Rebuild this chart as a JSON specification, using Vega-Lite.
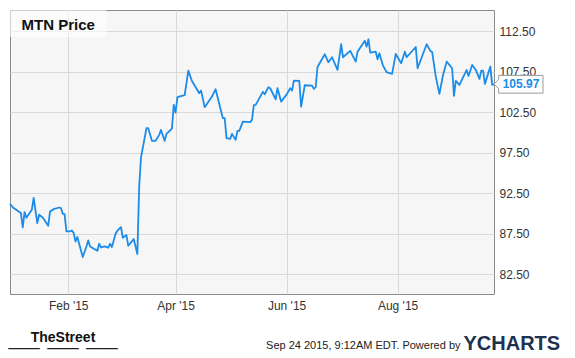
{
  "$schema": "https://vega.github.io/schema/vega-lite/v6.json",
  "width": 484,
  "height": 284,
  "autosize": {"type": "none"},
  "padding": {"left": 10, "top": 10, "right": 81, "bottom": 64},
  "background": "white",
  "config": {
    "view": {"fill": "#f6f6f6", "stroke": "#8a8a8a", "strokeWidth": 1},
    "axis": {"labelFont": "Liberation Sans", "titleFont": "Liberation Sans", "domain": false, "ticks": false, "tickSize": 0, "gridColor": "#d9d9d9", "gridWidth": 1, "gridOpacity": 1}
  },
  "title": {
    "text": "TheStreet",
    "subtitle": "__ __ __",
    "orient": "bottom",
    "anchor": "start",
    "frame": "group",
    "align": "center",
    "dx": 53,
    "offset": -22,
    "font": "Liberation Sans",
    "fontSize": 14,
    "fontWeight": "bold",
    "color": "#111111",
    "subtitleFont": "Liberation Sans",
    "subtitleFontSize": 28,
    "subtitleFontWeight": "bold",
    "subtitleColor": "#222222",
    "subtitlePadding": -21
  },
  "datasets": {
    "prices": [
      {"date": "2014-12-31", "price": 91.14},
      {"date": "2015-01-02", "price": 90.65},
      {"date": "2015-01-04", "price": 90.35},
      {"date": "2015-01-06", "price": 90.03},
      {"date": "2015-01-07", "price": 88.25},
      {"date": "2015-01-08", "price": 90.15},
      {"date": "2015-01-09", "price": 89.45},
      {"date": "2015-01-12", "price": 90.44},
      {"date": "2015-01-13", "price": 91.92},
      {"date": "2015-01-15", "price": 88.80},
      {"date": "2015-01-16", "price": 89.82},
      {"date": "2015-01-18", "price": 89.49},
      {"date": "2015-01-21", "price": 88.46},
      {"date": "2015-01-22", "price": 90.23},
      {"date": "2015-01-24", "price": 90.52},
      {"date": "2015-01-27", "price": 90.72},
      {"date": "2015-01-28", "price": 90.65},
      {"date": "2015-01-29", "price": 89.94},
      {"date": "2015-01-30", "price": 89.90},
      {"date": "2015-01-31", "price": 87.76},
      {"date": "2015-02-02", "price": 87.76},
      {"date": "2015-02-03", "price": 87.88},
      {"date": "2015-02-04", "price": 87.56},
      {"date": "2015-02-05", "price": 86.52},
      {"date": "2015-02-06", "price": 87.07},
      {"date": "2015-02-07", "price": 86.24},
      {"date": "2015-02-09", "price": 84.60},
      {"date": "2015-02-11", "price": 85.91},
      {"date": "2015-02-12", "price": 86.65},
      {"date": "2015-02-13", "price": 85.91},
      {"date": "2015-02-17", "price": 85.38},
      {"date": "2015-02-18", "price": 86.24},
      {"date": "2015-02-19", "price": 85.78},
      {"date": "2015-02-21", "price": 85.91},
      {"date": "2015-02-23", "price": 85.75},
      {"date": "2015-02-24", "price": 86.24},
      {"date": "2015-02-25", "price": 85.83},
      {"date": "2015-02-27", "price": 87.44},
      {"date": "2015-02-28", "price": 87.85},
      {"date": "2015-03-02", "price": 88.30},
      {"date": "2015-03-03", "price": 86.98},
      {"date": "2015-03-05", "price": 87.31},
      {"date": "2015-03-06", "price": 85.99},
      {"date": "2015-03-09", "price": 86.82},
      {"date": "2015-03-11", "price": 84.97},
      {"date": "2015-03-12", "price": 93.31},
      {"date": "2015-03-13", "price": 96.92},
      {"date": "2015-03-16", "price": 100.52},
      {"date": "2015-03-17", "price": 100.52},
      {"date": "2015-03-19", "price": 98.96},
      {"date": "2015-03-21", "price": 98.96},
      {"date": "2015-03-23", "price": 99.70},
      {"date": "2015-03-24", "price": 100.31},
      {"date": "2015-03-26", "price": 98.96},
      {"date": "2015-03-27", "price": 99.82},
      {"date": "2015-03-30", "price": 100.48},
      {"date": "2015-03-31", "price": 103.40},
      {"date": "2015-04-01", "price": 102.45},
      {"date": "2015-04-02", "price": 104.35},
      {"date": "2015-04-06", "price": 104.60},
      {"date": "2015-04-08", "price": 107.64},
      {"date": "2015-04-10", "price": 106.36},
      {"date": "2015-04-14", "price": 104.85},
      {"date": "2015-04-15", "price": 105.17},
      {"date": "2015-04-17", "price": 103.12},
      {"date": "2015-04-21", "price": 104.43},
      {"date": "2015-04-23", "price": 105.34},
      {"date": "2015-04-27", "price": 101.76},
      {"date": "2015-04-28", "price": 101.76},
      {"date": "2015-04-29", "price": 99.29},
      {"date": "2015-05-01", "price": 99.20},
      {"date": "2015-05-02", "price": 99.82},
      {"date": "2015-05-04", "price": 99.08},
      {"date": "2015-05-05", "price": 100.19},
      {"date": "2015-05-06", "price": 100.19},
      {"date": "2015-05-08", "price": 101.34},
      {"date": "2015-05-12", "price": 101.27},
      {"date": "2015-05-13", "price": 101.55},
      {"date": "2015-05-14", "price": 103.36},
      {"date": "2015-05-15", "price": 103.40},
      {"date": "2015-05-19", "price": 105.01},
      {"date": "2015-05-20", "price": 104.72},
      {"date": "2015-05-22", "price": 105.59},
      {"date": "2015-05-23", "price": 105.46},
      {"date": "2015-05-26", "price": 104.10},
      {"date": "2015-05-27", "price": 105.46},
      {"date": "2015-05-29", "price": 103.81},
      {"date": "2015-06-01", "price": 104.67},
      {"date": "2015-06-03", "price": 105.46},
      {"date": "2015-06-04", "price": 105.17},
      {"date": "2015-06-05", "price": 106.40},
      {"date": "2015-06-08", "price": 106.36},
      {"date": "2015-06-09", "price": 103.19},
      {"date": "2015-06-11", "price": 105.83},
      {"date": "2015-06-15", "price": 105.78},
      {"date": "2015-06-16", "price": 105.38},
      {"date": "2015-06-17", "price": 105.59},
      {"date": "2015-06-18", "price": 108.09},
      {"date": "2015-06-22", "price": 109.66},
      {"date": "2015-06-24", "price": 108.67},
      {"date": "2015-06-26", "price": 109.29},
      {"date": "2015-06-29", "price": 107.72},
      {"date": "2015-07-01", "price": 110.90},
      {"date": "2015-07-02", "price": 109.29},
      {"date": "2015-07-06", "price": 110.07},
      {"date": "2015-07-09", "price": 108.75},
      {"date": "2015-07-10", "price": 109.98},
      {"date": "2015-07-14", "price": 111.34},
      {"date": "2015-07-15", "price": 110.60},
      {"date": "2015-07-16", "price": 111.51},
      {"date": "2015-07-17", "price": 109.86},
      {"date": "2015-07-20", "price": 109.98},
      {"date": "2015-07-21", "price": 109.04},
      {"date": "2015-07-22", "price": 109.78},
      {"date": "2015-07-24", "price": 108.25},
      {"date": "2015-07-26", "price": 107.44},
      {"date": "2015-07-29", "price": 107.23},
      {"date": "2015-07-31", "price": 109.70},
      {"date": "2015-08-03", "price": 108.55},
      {"date": "2015-08-05", "price": 109.98},
      {"date": "2015-08-06", "price": 109.29},
      {"date": "2015-08-11", "price": 110.56},
      {"date": "2015-08-12", "price": 107.93},
      {"date": "2015-08-17", "price": 110.90},
      {"date": "2015-08-19", "price": 110.07},
      {"date": "2015-08-20", "price": 109.94},
      {"date": "2015-08-22", "price": 106.90},
      {"date": "2015-08-24", "price": 104.76},
      {"date": "2015-08-26", "price": 107.10},
      {"date": "2015-08-28", "price": 108.75},
      {"date": "2015-08-31", "price": 107.93},
      {"date": "2015-09-01", "price": 104.51},
      {"date": "2015-09-02", "price": 106.36},
      {"date": "2015-09-04", "price": 105.87},
      {"date": "2015-09-08", "price": 107.72},
      {"date": "2015-09-09", "price": 106.98},
      {"date": "2015-09-11", "price": 108.34},
      {"date": "2015-09-13", "price": 107.72},
      {"date": "2015-09-15", "price": 106.61},
      {"date": "2015-09-16", "price": 107.64},
      {"date": "2015-09-17", "price": 107.64},
      {"date": "2015-09-18", "price": 106.00},
      {"date": "2015-09-21", "price": 108.13},
      {"date": "2015-09-22", "price": 105.87},
      {"date": "2015-09-23", "price": 105.97}
    ],
    "last": [
      {"date": "2015-09-23", "price": 105.97}
    ]
  },
  "layer": [
    {
      "data": {"name": "prices"},
      "mark": {"type": "line", "color": "#1c8ce8", "strokeWidth": 1.8, "strokeJoin": "round"},
      "encoding": {
        "x": {
          "field": "date",
          "type": "temporal",
          "scale": {"type": "utc", "domain": [{"year": 2014, "month": 12, "date": 31, "utc": true}, {"year": 2015, "month": 9, "date": 23, "utc": true}]},
          "axis": {
            "values": [
              {"year": 2015, "month": 2, "date": 1, "utc": true},
              {"year": 2015, "month": 4, "date": 1, "utc": true},
              {"year": 2015, "month": 6, "date": 1, "utc": true},
              {"year": 2015, "month": 8, "date": 1, "utc": true}
            ],
            "format": "%b '%y",
            "labelFontSize": 12,
            "labelColor": "#333333",
            "labelPadding": 6,
            "grid": true,
            "title": "Sep 24 2015, 9:12AM EDT. Powered by",
            "titleX": 450,
            "titleY": 54,
            "titleAlign": "right",
            "titleBaseline": "alphabetic",
            "titleFontSize": 11,
            "titleFontWeight": "normal",
            "titleColor": "#222222"
          }
        },
        "y": {
          "field": "price",
          "type": "quantitative",
          "scale": {"domain": [80.03, 115.13], "nice": false, "zero": false},
          "axis": {
            "orient": "right",
            "values": [82.5, 87.5, 92.5, 97.5, 102.5, 107.5, 112.5],
            "format": ".2f",
            "labelFontSize": 12,
            "labelColor": "#333333",
            "labelPadding": 5,
            "grid": true,
            "title": "YCHARTS",
            "titleAngle": 0,
            "titleX": -31,
            "titleY": 339,
            "titleAlign": "left",
            "titleBaseline": "alphabetic",
            "titleFontSize": 20,
            "titleFontWeight": "bold",
            "titleColor": "#1e3250"
          }
        }
      }
    },
    {
      "data": {"name": "last"},
      "mark": {"type": "rect", "fill": "white", "opacity": 0.6},
      "encoding": {
        "x": {"datum": {"year": 2014, "month": 12, "date": 31, "utc": true}, "type": "temporal"},
        "x2": {"datum": {"year": 2015, "month": 2, "date": 22, "utc": true}},
        "y": {
          "datum": 115.13,
          "type": "quantitative",
          "axis": {
            "orient": "left",
            "labels": false,
            "grid": false,
            "zindex": 2,
            "title": "MTN Price",
            "titleAngle": 0,
            "titleX": 11,
            "titleY": 19,
            "titleAlign": "left",
            "titleBaseline": "alphabetic",
            "titleFontSize": 15,
            "titleFontWeight": "bold",
            "titleColor": "#111111"
          }
        },
        "y2": {"datum": 111.8}
      }
    },
    {
      "data": {"name": "last"},
      "encoding": {
        "x": {"field": "date", "type": "temporal"},
        "y": {"field": "price", "type": "quantitative", "axis": null}
      },
      "layer": [
        {
          "mark": {"type": "point", "shape": "M0,0L0.46,-0.45L0.46,-0.87L4.9,-0.87L4.9,0.9L0.46,0.9L0.46,0.45Z", "size": 400, "filled": true, "fill": "white", "stroke": "#9a9a9a", "strokeWidth": 1, "opacity": 1}
        },
        {
          "mark": {"type": "text", "dx": 27, "align": "center", "baseline": "middle", "font": "Liberation Sans", "fontSize": 12, "fontWeight": "bold", "color": "#1c8ce8"},
          "encoding": {"text": {"field": "price", "type": "quantitative", "format": ".2f"}}
        }
      ]
    }
  ],
  "resolve": {"axis": {"y": "independent"}}
}
